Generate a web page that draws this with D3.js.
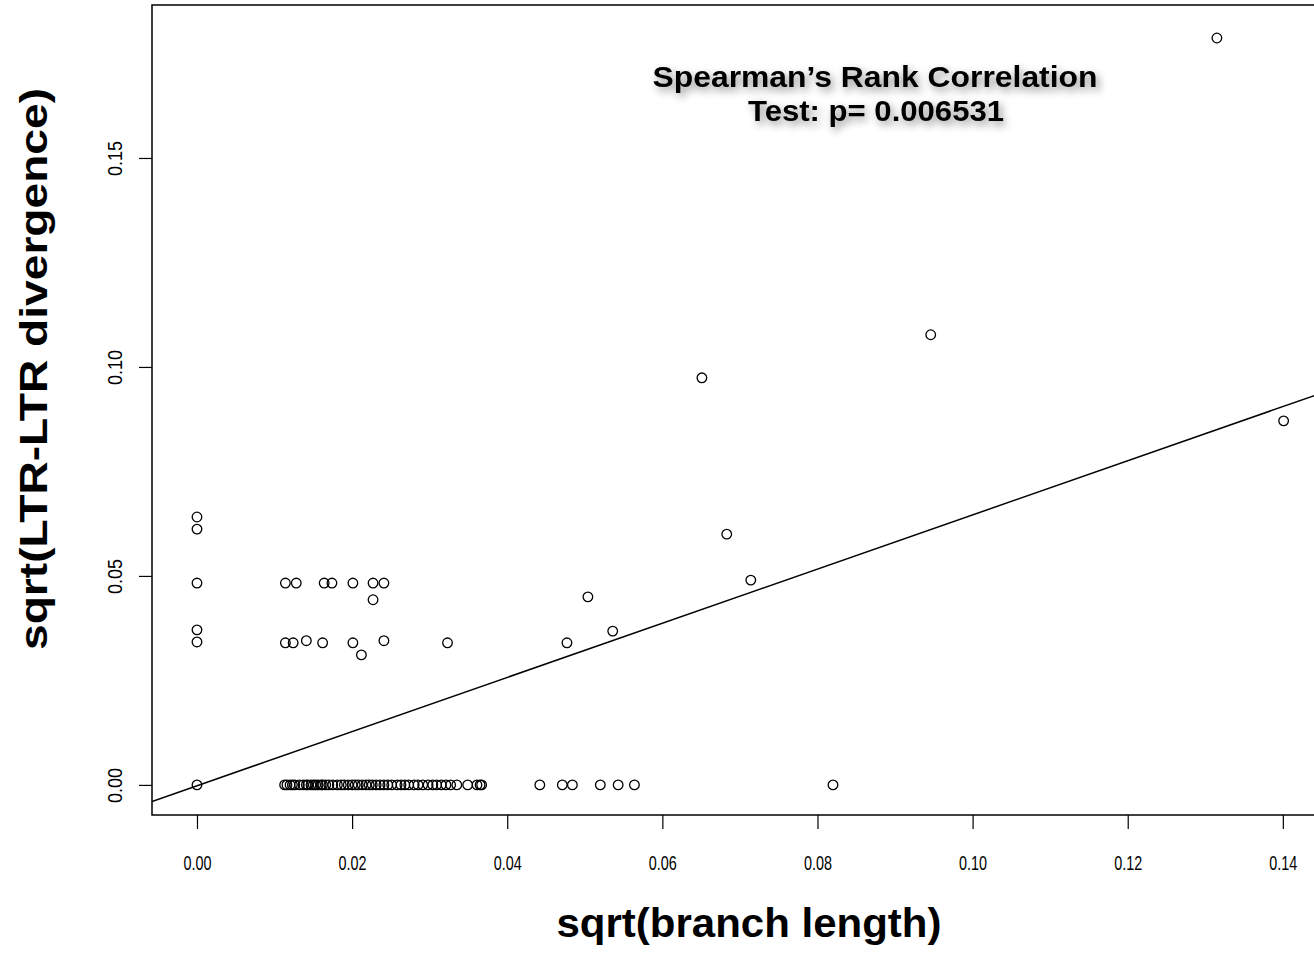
<!DOCTYPE html>
<html>
<head>
<meta charset="utf-8">
<script src="https://cdn.jsdelivr.net/npm/d3@7"></script>
<style>
  body { margin: 0; background: #fff; }
  svg { display: block; }
  text { font-family: "Liberation Sans", Arial, Helvetica, sans-serif; }
</style>
</head>
<body>
<script>
width = 1314;
height = 960;

// points at x = 0
const zeroX = [0, 0, 0, 0, 0, 0];
const zeroY = [0.0641, 0.0612, 0.0483, 0.0371, 0.0342, 0];

// upper row (~0.048) and middle row (~0.034) of the left group
const upperX = [0.0114, 0.0128, 0.0164, 0.0174, 0.0201, 0.0227, 0.0241, 0.0227];
const upperY = [0.0483, 0.0483, 0.0483, 0.0483, 0.0483, 0.0483, 0.0483, 0.0443];
const midX = [0.0114, 0.0124, 0.0141, 0.0162, 0.0201, 0.0212, 0.0241, 0.0323];
const midY = [0.0340, 0.0340, 0.0345, 0.0340, 0.0340, 0.0311, 0.0345, 0.0340];

// points lying on y = 0
const bottomX = [0.0113, 0.0116, 0.0120, 0.0123, 0.0126, 0.0132, 0.0137, 0.0141,
  0.0143, 0.0147, 0.0150, 0.0153, 0.0156, 0.0160, 0.0162, 0.0166, 0.0170, 0.0175,
  0.0181, 0.0186, 0.0190, 0.0195, 0.0200, 0.0204, 0.0208, 0.0213, 0.0218, 0.0222,
  0.0226, 0.0231, 0.0236, 0.0241, 0.0246, 0.0251, 0.0258, 0.0263, 0.0268, 0.0273,
  0.0280, 0.0285, 0.0291, 0.0298, 0.0304, 0.0309, 0.0315, 0.0321, 0.0327, 0.0335,
  0.0349, 0.0361, 0.0365, 0.0367, 0.0442, 0.0471, 0.0484, 0.0520, 0.0543, 0.0564,
  0.0820];

// scattered points on the right
const restX = [0.0477, 0.0504, 0.0536, 0.0683, 0.0714, 0.0651, 0.0946, 0.1315, 0.1401];
const restY = [0.0340, 0.0450, 0.0368, 0.0600, 0.0490, 0.0974, 0.1077, 0.1787, 0.0871];

const xTicks = [0, 0.02, 0.04, 0.06, 0.08, 0.10, 0.12, 0.14];
const yTicks = [0, 0.05, 0.10, 0.15];

// fitted line y = a + b*x
const fitA = -0.0002;
const fitB = 0.648;

const margin = {top: 5, left: 152, bottom: 815, right: 1367};

let points = [];
function addPoints(xs, ys) {
  xs.forEach((d, i) => points.push({x: d, y: ys ? ys[i] : 0}));
}
addPoints(zeroX, zeroY);
addPoints(upperX, upperY);
addPoints(midX, midY);
addPoints(bottomX, null);
addPoints(restX, restY);

var x = d3.scaleLinear().domain([-0.0058, 0.15085]).range([margin.left, margin.right]);
var y = d3.scaleLinear().domain([-0.0072, 0.1866]).range([margin.bottom, margin.top]);

let svg = d3.select("body").append("svg")
    .attr("width", width)
    .attr("height", height);

let defs = svg.append("defs");
defs.append("clipPath").attr("id", "plotclip")
  .append("rect")
    .attr("x", margin.left).attr("y", margin.top)
    .attr("width", margin.right - margin.left)
    .attr("height", margin.bottom - margin.top);

let shadow = defs.append("filter").attr("id", "shadow")
    .attr("x", "-20%").attr("y", "-50%").attr("width", "140%").attr("height", "200%");
shadow.append("feGaussianBlur").attr("in", "SourceAlpha").attr("stdDeviation", 4).attr("result", "blur");
shadow.append("feOffset").attr("in", "blur").attr("dx", 3).attr("dy", 4).attr("result", "off");
shadow.append("feComponentTransfer").attr("in", "off").attr("result", "soft")
  .append("feFuncA").attr("type", "linear").attr("slope", 0.45);
let merge = shadow.append("feMerge");
merge.append("feMergeNode").attr("in", "soft");
merge.append("feMergeNode").attr("in", "SourceGraphic");

// x axis
let xAxis = svg.append("g")
    .attr("transform", "translate(0," + margin.bottom + ")")
    .call(d3.axisBottom(x).tickValues(xTicks).tickSize(14).tickFormat(d3.format(".2f")));
xAxis.select(".domain").remove();
xAxis.selectAll("line").attr("stroke", "#000").attr("stroke-width", 1.2);
xAxis.selectAll("text")
    .attr("y", 55)
    .attr("dy", 0)
    .attr("font-size", 21)
    .attr("fill", "#000")
    .attr("textLength", 28)
    .attr("lengthAdjust", "spacingAndGlyphs");

// y axis
let yAxis = svg.append("g")
    .attr("transform", "translate(" + margin.left + ",0)")
    .call(d3.axisLeft(y).tickValues(yTicks).tickSize(13).tickFormat(d3.format(".2f")));
yAxis.select(".domain").remove();
yAxis.selectAll("line").attr("stroke", "#000").attr("stroke-width", 1.2);
yAxis.selectAll("text")
    .attr("x", 0).attr("dy", 0)
    .attr("transform", "translate(-30,0) rotate(-90)")
    .attr("text-anchor", "middle")
    .attr("font-size", 21)
    .attr("fill", "#000")
    .attr("textLength", 35)
    .attr("lengthAdjust", "spacingAndGlyphs");

// plot box
svg.append("rect")
    .attr("x", margin.left).attr("y", margin.top)
    .attr("width", margin.right - margin.left)
    .attr("height", margin.bottom - margin.top)
    .attr("fill", "none")
    .attr("stroke", "#000")
    .attr("stroke-width", 1.5);

let graph = svg.append("g").attr("clip-path", "url(#plotclip)");

// regression line
let xr = x.domain();
graph.append("line")
    .attr("x1", x(xr[0])).attr("y1", y(fitA + fitB * xr[0]))
    .attr("x2", x(xr[1])).attr("y2", y(fitA + fitB * xr[1]))
    .attr("stroke", "#000")
    .attr("stroke-width", 1.5);

circles = graph.selectAll("circle")
    .data(points)
    .enter()
    .append("circle")
    .attr("cx", d => x(d.x))
    .attr("cy", d => y(d.y))
    .attr("r", 4.8)
    .attr("fill", "none")
    .attr("stroke", "#000")
    .attr("stroke-width", 1.3);

// annotation
let note = svg.append("g").attr("filter", "url(#shadow)");
note.append("text")
    .attr("x", 875).attr("y", 87)
    .attr("text-anchor", "middle")
    .attr("font-size", 30)
    .attr("font-weight", "bold")
    .attr("textLength", 445)
    .attr("lengthAdjust", "spacingAndGlyphs")
    .text("Spearman\u2019s Rank Correlation");
note.append("text")
    .attr("x", 876).attr("y", 121)
    .attr("text-anchor", "middle")
    .attr("font-size", 30)
    .attr("font-weight", "bold")
    .attr("textLength", 256)
    .attr("lengthAdjust", "spacingAndGlyphs")
    .text("Test: p= 0.006531");

// axis titles
svg.append("text")
    .attr("x", 749).attr("y", 937)
    .attr("text-anchor", "middle")
    .attr("font-size", 40)
    .attr("font-weight", "bold")
    .attr("textLength", 385)
    .attr("lengthAdjust", "spacingAndGlyphs")
    .text("sqrt(branch length)");

svg.append("text")
    .attr("transform", "translate(47,369) rotate(-90)")
    .attr("text-anchor", "middle")
    .attr("font-size", 38)
    .attr("font-weight", "bold")
    .attr("textLength", 562)
    .attr("lengthAdjust", "spacingAndGlyphs")
    .text("sqrt(LTR-LTR divergence)");
</script>
</body>
</html>
